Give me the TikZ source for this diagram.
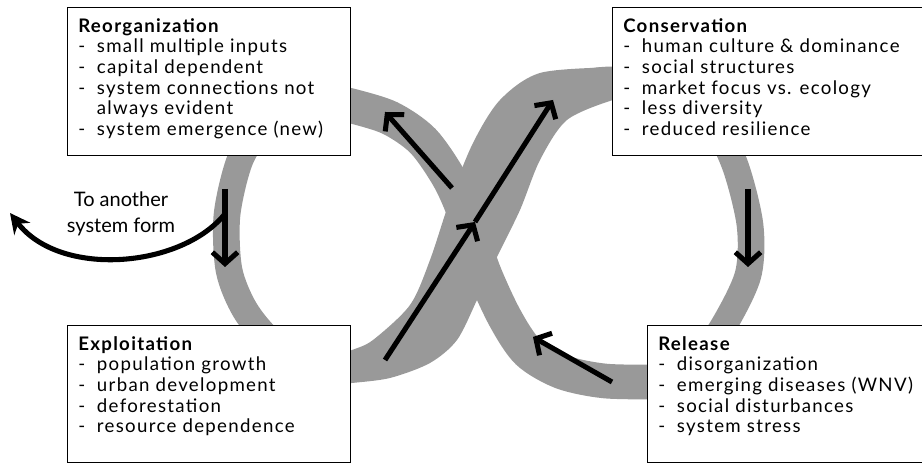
\documentclass[tikz,border=0pt]{standalone}
\usepackage{fontspec}
\setmainfont{Lato}
\newfontfamily\boxfont{Lato}[LetterSpace=7]
\usetikzlibrary{arrows.meta}

\definecolor{bandgray}{HTML}{999999}
\newcommand*\itm{\makebox[14pt][l]{-}}

\tikzset{
  stagebox/.style={draw, fill=white, line width=0.9pt, anchor=north west, inner sep=8pt,
    font=\boxfont\fontsize{14}{15.5}\selectfont},
  flow/.style={line width=3.8pt, -{Straight Barb[length=8.5pt,width=19pt]}},
}

\begin{document}
\begin{tikzpicture}[x=0.75pt, y=-0.75pt]
\clip (0,0) rectangle (922,473);

% the figure eight band
\draw[bandgray, line width=20pt] plot[smooth cycle] coordinates {
  (352,366) (395,352) (432,322) (460,268) (485,205) (506,152) (533,110) (565,88)
  (613,80) (670,92) (712,122) (735,165) (750,225) (748,275) (724,325) (695,365)
  (660,380) (620,382) (580,378) (545,362) (515,335) (495,295) (475,240) (455,195)
  (430,152) (395,122) (352,106) (300,108) (262,128) (240,160) (227,215) (229,270)
  (245,310) (272,342) (310,362)};
\draw[bandgray, line width=26pt] plot[smooth] coordinates {
  (340,104) (352,106) (390,118) (423,141) (450,180) (468,222) (483,270) (505,318)
  (528,352) (562,372) (605,381) (660,382)};
\fill[bandgray] plot[smooth] coordinates {
  (340,354) (352,350) (373,340) (410,305) (430,260) (450,200) (473,143) (500,100)
  (540,73) (613,67) (630,67)}
  -- plot[smooth] coordinates {
  (630,100) (613,100) (567,120) (540,160) (520,210) (497,257) (477,300) (457,340)
  (430,363) (390,378) (352,383) (340,384)} -- cycle;

% stages
\node[stagebox] (reorg) at (67,7) {\parbox[t][95pt][t]{196pt}{%
  \textbf{Reorganization}\\
  \itm small multiple inputs\\
  \itm capital dependent\\
  \itm system connections not\\
  \hspace*{14pt}always evident\\
  \itm system emergence (new)}};
\node[stagebox] (cons) at (612,7) {\parbox[t][95pt][t]{240pt}{%
  \textbf{Conservation}\\
  \itm human culture \& dominance\\
  \itm social structures\\
  \itm market focus vs. ecology\\
  \itm less diversity\\
  \itm reduced resilience}};
\node[stagebox] (expl) at (67,325) {\parbox[t][86.5pt][t]{196pt}{%
  \textbf{Exploitation}\\
  \itm population growth\\
  \itm urban development\\
  \itm deforestation\\
  \itm resource dependence}};
\node[stagebox] (rel) at (647,325) {\parbox[t][86.5pt][t]{240pt}{%
  \textbf{Release}\\
  \itm disorganization\\
  \itm emerging diseases (WNV)\\
  \itm social disturbances\\
  \itm system stress}};

\node[align=center, font=\fontsize{15}{20}\selectfont] (other) at (121,214) {To another\\system form};

% arrows along the band
\coordinate (a1) at (225,189); \coordinate (a2) at (225,267);
\coordinate (b1) at (748,189); \coordinate (b2) at (748,267);
\coordinate (c1) at (452,188); \coordinate (c2) at (385,112);
\coordinate (d1) at (612,382); \coordinate (d2) at (533,337);
\coordinate (e1) at (385,360); \coordinate (e2) at (475,222); \coordinate (e3) at (553,100);
\draw[flow] (a1) -- (a2);
\draw[flow] (b1) -- (b2);
\draw[flow] (c1) -- (c2);
\draw[flow] (d1) -- (d2);
\draw[flow] (e1) -- (e2);
\draw[flow] (e2) -- (e3);

\coordinate (split) at (224,215);
\coordinate (away) at (10,213);
\draw[line width=3.8pt, -{Stealth[length=15pt,width=15pt]}] (split) .. controls (180,268) and (60,278) .. (away);
\end{tikzpicture}
\end{document}
